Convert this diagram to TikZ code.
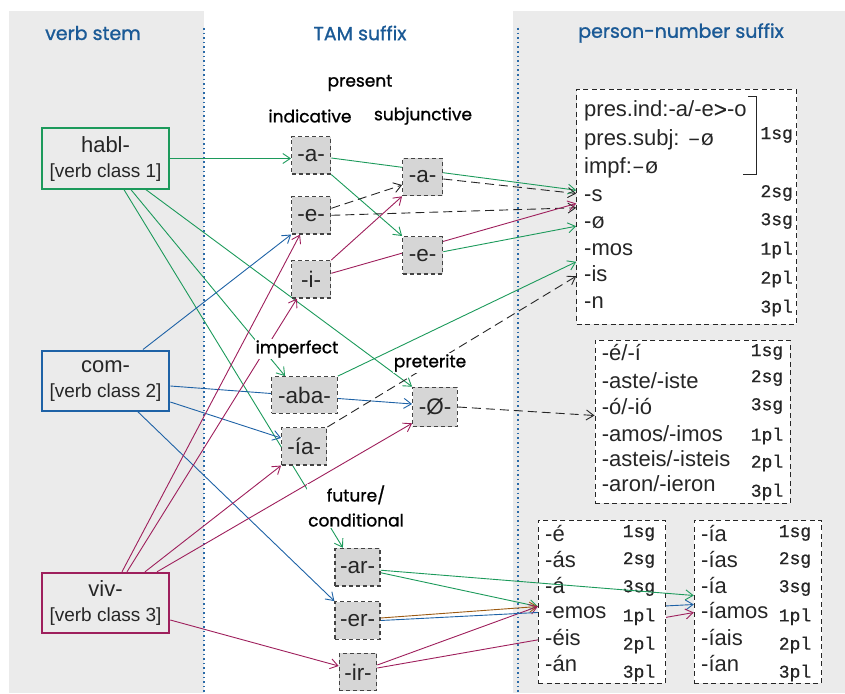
\documentclass[tikz,border=0pt]{standalone}
\usepackage{fontspec}
\setmainfont{Liberation Sans}
\newfontfamily\lblfont[FakeBold=1.1]{Poppins}
\newfontfamily\cwfont[FakeBold=0.7]{Liberation Mono}
\newfontfamily\cwthin{Liberation Mono}
\usetikzlibrary{arrows.meta,calc}

\definecolor{panelgray}{HTML}{EBEBEB}
\definecolor{titleblue}{HTML}{1B5A96}
\definecolor{dotblue}{HTML}{2A6AA8}
\definecolor{cgreen}{HTML}{1C9A5B}
\definecolor{cblue}{HTML}{1E62A6}
\definecolor{cmag}{HTML}{9E1F5C}
\definecolor{cbrown}{HTML}{9C5A12}
\definecolor{tamfill}{HTML}{D6D6D6}
\definecolor{boxedge}{HTML}{444444}
\definecolor{ink}{HTML}{262626}

\pgfdeclarelayer{panels}
\pgfdeclarelayer{edges}
\pgfsetlayers{panels,edges,main}

\begin{document}
\begin{tikzpicture}[x=1pt,y=-1pt,
  stembox/.style={draw, line width=2pt, fill=panelgray, minimum width=127.6pt,
    minimum height=60.4pt, align=center, inner sep=0pt, text=ink,
    font=\fontsize{22}{25}\selectfont},
  tambox/.style={draw=boxedge, fill=tamfill, dash pattern=on 4pt off 3pt,
    line width=1.2pt, inner sep=0pt, text=ink, font=\fontsize{22.5}{24}\selectfont},
  pnbox/.style={draw=ink, fill=white, dash pattern=on 5pt off 3.5pt,
    line width=1pt, inner sep=0pt},
  pntext/.style={anchor=west, inner sep=0pt, text=ink,
    font=\fontsize{22}{24}\selectfont, text height=15.5pt, text depth=5pt},
  pnlab/.style={inner sep=0.5pt, fill=white, text=ink, font=\cwfont\fontsize{18}{20}\selectfont},
  title/.style={text=titleblue, font=\lblfont\fontsize{19}{24}\selectfont},
  cat/.style={font=\lblfont\fontsize{17}{25}\selectfont, text=black, fill=white,
    inner sep=1pt, align=center},
  conn/.style={line width=0.9pt, -{Straight Barb[length=7.5pt,width=10pt]}},
  dconn/.style={conn, draw=ink, dash pattern=on 9pt off 5pt},
  dotline/.style={dotblue, line width=1.6pt, dash pattern=on 1.6pt off 3pt}
]
\useasboundingbox (0,0) rectangle (845,693);

% column backgrounds and separators
\begin{pgfonlayer}{panels}
  \fill[panelgray] (9,11) rectangle (204,693);
  \fill[panelgray] (513,11) rectangle (845,693);
  \draw[dotline] (204,28) -- (204,693);
  \draw[dotline] (518,28) -- (518,693);
\end{pgfonlayer}

% column headings
\node[title] (h1) at (93,33) {verb stem};
\node[title] (h2) at (360,33) {TAM suffix};
\node[title] (h3) at (681,33) {person-number suffix};

% verb stems
\node[stembox, draw=cgreen] (habl) at (105.5,158.5)
  {habl-\\{\fontsize{19}{25}\selectfont [verb class 1]}};
\node[stembox, draw=cblue] (com) at (105.5,380.7)
  {com-\\{\fontsize{19}{25}\selectfont [verb class 2]}};
\node[stembox, draw=cmag] (viv) at (105.5,603)
  {viv-\\{\fontsize{19}{25}\selectfont [verb class 3]}};

% TAM category labels
\node[cat] (present) at (360,83) {present};
\node[cat] (indic) at (310,116) {indicative};
\node[cat] (subj) at (423,116) {subjunctive};
\node[cat] (impf) at (297,349) {imperfect};
\node[cat] (pretl) at (430,363) {preterite};
\node[cat] (futl) at (356,506) {future/\\conditional};

% TAM suffixes
\node[tambox, minimum width=39pt, minimum height=37.3pt] (ia) at (311.2,155.3) {-a-};
\node[tambox, minimum width=39pt, minimum height=37.3pt] (ie) at (311.2,215.3) {-e-};
\node[tambox, minimum width=39pt, minimum height=37.3pt] (ii) at (311.2,279.3) {-i-};
\node[tambox, minimum width=40pt, minimum height=37.4pt] (sa) at (422.7,177) {-a-};
\node[tambox, minimum width=40pt, minimum height=37.4pt] (se) at (422.7,255.3) {-e-};
\node[tambox, minimum width=65.6pt, minimum height=36.6pt] (aba) at (304.5,395) {-aba-};
\node[tambox, minimum width=45pt, minimum height=37.3pt] (iia) at (304.2,446.3) {-ía-};
\node[tambox, minimum width=44.6pt, minimum height=39.4pt] (pret) at (435,407) {-Ø-};
\node[tambox, minimum width=45pt, minimum height=37.7pt] (ar) at (357.5,567.2) {-ar-};
\node[tambox, minimum width=45pt, minimum height=37.6pt] (er) at (357.5,620.5) {-er-};
\node[tambox, minimum width=37.4pt, minimum height=37.4pt] (ir) at (358,672) {-ir-};

% person-number paradigms
\node[pnbox, minimum width=220pt, minimum height=234.7pt] (pn1) at (686.7,206.65) {};
\node[pnbox, minimum width=195pt, minimum height=163.3pt] (pn2) at (692.5,421.65) {};
\node[pnbox, minimum width=127.4pt, minimum height=163.3pt] (pn3) at (602,601.65) {};
\node[pnbox, minimum width=127.4pt, minimum height=163.3pt] (pn4) at (758,601.65) {};

% present / imperfect endings
\node[pntext] (p1r1) at (584,111.7) {pres.ind:-a/-e{\cwfont >}-o};
\node[pntext] (p1r2) at (584,140) {pres.subj: {\cwthin –ø}};
\node[pntext] (p1r3) at (584,168) {impf:{\cwthin –ø}};
\node[pntext] (p1r4) at (584,196.7) {-s};
\node[pntext] (p1r5) at (584,223) {-{\cwthin ø}};
\node[pntext] (p1r6) at (584,250.7) {-mos};
\node[pntext] (p1r7) at (584,276.7) {-is};
\node[pntext] (p1r8) at (584,303) {-n};
\draw[ink, line width=0.9pt] (748,96) -- (756.7,96) -- (756.7,174) -- (742.7,174);
\foreach \t/\y in {1sg/135,2sg/193,3sg/221,1pl/250,2pl/279,3pl/308}
  \node[pnlab] (p1l\t) at (776.7,\y) {\t};

% preterite endings
\foreach \t/\y [count=\i] in {{-é/-í}/355,{-aste/-iste}/383,{-ó/-ió}/409,
    {-amos/-imos}/436,{-asteis/-isteis}/461.7,{-aron/-ieron}/486}
  \node[pntext] (p2r\i) at (601.7,\y) {\t};
\foreach \t/\y in {1sg/352,2sg/378,3sg/406,1pl/436,2pl/463,3pl/492}
  \node[pnlab] (p2l\t) at (767,\y) {\t};

% future endings
\foreach \t/\y [count=\i] in {-é/536.7,-ás/562.7,-á/588,-emos/613,-éis/640,-án/666.7}
  \node[pntext] (p3r\i) at (545,\y) {\t};
\foreach \t/\y in {1sg/533,2sg/560,3sg/588,1pl/616.7,2pl/645,3pl/673}
  \node[pnlab] (p3l\t) at (639,\y) {\t};

% conditional endings
\foreach \t/\y [count=\i] in {-ía/536.7,-ías/562.7,-ía/588,-íamos/613,-íais/640,-ían/666.7}
  \node[pntext] (p4r\i) at (701,\y) {\t};
\foreach \t/\y in {1sg/533,2sg/560,3sg/588,1pl/616.7,2pl/645,3pl/673}
  \node[pnlab] (p4l\t) at (795,\y) {\t};

% arrival points on the paradigm boxes
\coordinate (to-s1)  at ($(pn1.north west)+(0,101.4)$);
\coordinate (to-sa)  at ($(pn1.north west)+(0,104.7)$);
\coordinate (to-i)   at ($(pn1.north west)+(0,114.7)$);
\coordinate (to-e)   at ($(pn1.north west)+(0,119)$);
\coordinate (to-se)  at ($(pn1.north west)+(0,137.4)$);
\coordinate (to-aba) at ($(pn1.north west)+(0,173)$);
\coordinate (to-ia)  at ($(pn1.north west)+(0,187.4)$);
\coordinate (to-pret) at ($(pn2.north west)+(0,76)$);
\coordinate (to-fut) at ($(pn3.north west)+(0,87)$);
\coordinate (to-cg)  at ($(pn4.north west)+(0,76)$);
\coordinate (to-cb)  at ($(pn4.north west)+(0,85)$);
\coordinate (to-cm)  at ($(pn4.north west)+(0,93)$);

\begin{pgfonlayer}{edges}
  % verb class 1
  \draw[conn,cgreen] (habl.east) -- (habl.east -| ia.west);
  \draw[conn,cgreen] ([xshift=25.5pt]habl.south) -- ($(aba.north west)+(14,0)$);
  \draw[conn,cgreen] ([xshift=18.5pt]habl.south) -- ($(ar.north west)+(8.5,0)$);
  \draw[conn,cgreen] ([xshift=40.5pt]habl.south) -- (pret.north west);
  % verb class 2
  \draw[conn,cblue] ([xshift=37.5pt]com.north) -- (ie.south west);
  \draw[conn,cblue] ([yshift=-5.3pt]com.east) -- ([yshift=3pt]pret.west);
  \draw[conn,cblue] ([yshift=-21.3pt]com.east) -- ([yshift=8.3pt]iia.west);
  \draw[conn,cblue] ([xshift=32.5pt]com.south) -- (er.north west);
  % verb class 3
  \draw[conn,cmag] ([xshift=16.5pt]viv.north) -- ([xshift=-11.2pt]ie.south);
  \draw[conn,cmag] ([xshift=21.5pt]viv.north) -- ([xshift=-14.2pt]ii.south);
  \draw[conn,cmag] ([xshift=39.5pt]viv.north) -- (iia.south west);
  \draw[conn,cmag] ([xshift=51.5pt]viv.north) -- ([yshift=4pt]pret.south west);
  \draw[conn,cmag] ([yshift=-17pt]viv.east) -- ([yshift=6pt]ir.west);
  % present
  \draw[conn,cgreen] ([yshift=-2.7pt]ia.east) -- (to-s1);
  \draw[conn,cgreen] (ia.south east) -- (se.north west);
  \draw[dconn] ([yshift=7pt]ie.east) -- ([yshift=-8pt]sa.west);
  \draw[dconn] (ie.east) -- (to-e);
  \draw[dconn] ([yshift=-2pt]sa.east) -- (to-sa);
  \draw[conn,cmag] (ii.north east) -- (sa.south west);
  \draw[conn,cmag] ([yshift=6pt]ii.east) -- (to-i);
  \draw[conn,cgreen] ([yshift=3.6pt]se.east) -- (to-se);
  % imperfect and preterite
  \draw[conn,cgreen] (aba.north east) -- (to-aba);
  \draw[dconn] (iia.north east) -- (to-ia);
  \draw[dconn] (pret.east) -- (to-pret);
  % future and conditional
  \draw[conn,cgreen] ([yshift=-5.5pt]ar.east) -- (to-fut);
  \draw[conn,cbrown] ([yshift=2.5pt]er.east) -- (to-fut);
  \draw[conn,cmag] ([yshift=7pt]ir.east) -- (to-fut);
  \draw[conn,cblue] (er.east) -- (to-cb);
  \draw[conn,cmag] ([yshift=4pt]ir.east) -- (to-cm);
\end{pgfonlayer}
\draw[conn,cgreen] ([yshift=-3pt]ar.east) -- (to-cg);
\end{tikzpicture}
\end{document}
